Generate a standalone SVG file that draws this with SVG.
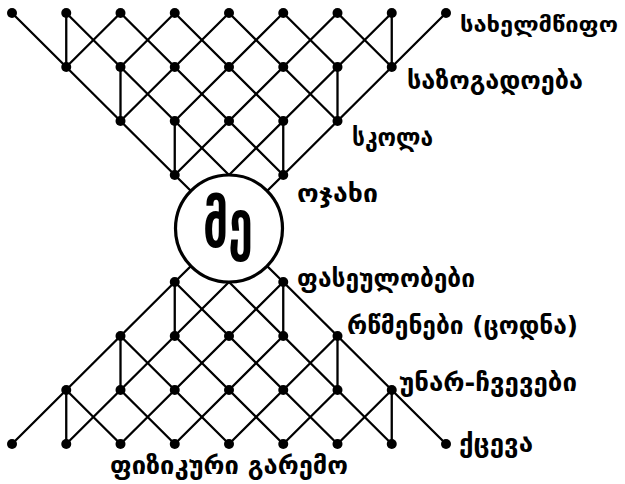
<svg xmlns="http://www.w3.org/2000/svg" width="625" height="484" viewBox="0 0 625 484">
<style>
.e{fill:none;stroke:#000;stroke-width:2.3;stroke-linecap:round;stroke-linejoin:round}
.d{fill:#000}
.t{font-family:"DejaVu Sans","Noto Sans",sans-serif;font-weight:bold;font-size:25px;fill:#000}
.s{font-size:22px}
.me{font-family:"DejaVu Sans","Noto Sans",sans-serif;font-weight:bold;font-size:66px;fill:#000}
</style>
<defs><circle id="dot" r="5" class="d"/></defs>
<rect width="625" height="484" fill="#fff"/>
<g id="connectors" class="e">
<path d="M12,13 L66.25,67 L120.5,121 L174.75,175 L229,228.5 M66.25,13 L229,175 M120.5,13 L283.25,175 M174.75,13 L283.25,121 M229,13 L337.5,121 M283.25,13 L337.5,67 M337.5,13 L391.75,67"/>
<path d="M446,13 L391.75,67 L337.5,121 L283.25,175 L229,228.5 M391.75,13 L229,175 M337.5,13 L174.75,175 M283.25,13 L174.75,121 M229,13 L120.5,121 M174.75,13 L120.5,67 M120.5,13 L66.25,67"/>
<path d="M66.25,13V67 M391.75,13V67 M120.5,67V121 M337.5,67V121 M174.75,121V175 M283.25,121V175"/>
<path d="M12,444 L66.25,390 L120.5,336 L174.75,282 L229,228.5 M66.25,444 L229,282 M120.5,444 L283.25,282 M174.75,444 L283.25,336 M229,444 L337.5,336 M283.25,444 L337.5,390 M337.5,444 L391.75,390"/>
<path d="M446,444 L391.75,390 L337.5,336 L283.25,282 L229,228.5 M391.75,444 L229,282 M337.5,444 L174.75,282 M283.25,444 L174.75,336 M229,444 L120.5,336 M174.75,444 L120.5,390 M120.5,444 L66.25,390"/>
<path d="M66.25,444V390 M391.75,444V390 M120.5,390V336 M337.5,390V336 M174.75,336V282 M283.25,336V282"/>
</g>
<g id="me">
<circle cx="229" cy="228.5" r="53.5" fill="#fff" stroke="#000" stroke-width="3.2"/>
<text class="me" x="228" y="247" text-anchor="middle" textLength="50" lengthAdjust="spacingAndGlyphs">მე</text>
</g>
<g id="top-r0">
<use id="t00" href="#dot" x="12" y="13"/>
<use id="t01" href="#dot" x="66.25" y="13"/>
<use id="t02" href="#dot" x="120.5" y="13"/>
<use id="t03" href="#dot" x="174.75" y="13"/>
<use id="t04" href="#dot" x="229" y="13"/>
<use id="t05" href="#dot" x="283.25" y="13"/>
<use id="t06" href="#dot" x="337.5" y="13"/>
<use id="t07" href="#dot" x="391.75" y="13"/>
</g>
<g id="sakhelmtsipo"><use href="#dot" x="446" y="13"/><text class="t s" x="460" y="32" textLength="158" lengthAdjust="spacingAndGlyphs">სახელმწიფო</text></g>
<g id="top-r1">
<use id="t11" href="#dot" x="66.25" y="67"/>
<use id="t12" href="#dot" x="120.5" y="67"/>
<use id="t13" href="#dot" x="174.75" y="67"/>
<use id="t14" href="#dot" x="229" y="67"/>
<use id="t15" href="#dot" x="283.25" y="67"/>
<use id="t16" href="#dot" x="337.5" y="67"/>
</g>
<g id="sazogadoeba"><use href="#dot" x="391.75" y="67"/><text class="t" x="407" y="89" textLength="176" lengthAdjust="spacingAndGlyphs">საზოგადოება</text></g>
<g id="top-r2">
<use id="t22" href="#dot" x="120.5" y="121"/>
<use id="t23" href="#dot" x="174.75" y="121"/>
<use id="t24" href="#dot" x="229" y="121"/>
<use id="t25" href="#dot" x="283.25" y="121"/>
</g>
<g id="skola"><use href="#dot" x="337.5" y="121"/><text class="t" x="352" y="146" textLength="81" lengthAdjust="spacingAndGlyphs">სკოლა</text></g>
<g id="top-r3"><use id="t33" href="#dot" x="174.75" y="175"/></g>
<g id="ojakhi"><use href="#dot" x="283.25" y="175"/><text class="t" x="297" y="202" textLength="81" lengthAdjust="spacingAndGlyphs">ოჯახი</text></g>
<g id="bot-r3"><use id="b33" href="#dot" x="174.75" y="282"/></g>
<g id="faseulobebi"><use href="#dot" x="283.25" y="282"/><text class="t" x="297" y="287" textLength="178" lengthAdjust="spacingAndGlyphs">ფასეულობები</text></g>
<g id="bot-r2">
<use id="b22" href="#dot" x="120.5" y="336"/>
<use id="b23" href="#dot" x="174.75" y="336"/>
<use id="b24" href="#dot" x="229" y="336"/>
<use id="b25" href="#dot" x="283.25" y="336"/>
</g>
<g id="rtsmenebi"><use href="#dot" x="337.5" y="336"/><text class="t" x="347" y="334" textLength="231" lengthAdjust="spacingAndGlyphs">რწმენები (ცოდნა)</text></g>
<g id="bot-r1">
<use id="b11" href="#dot" x="66.25" y="390"/>
<use id="b12" href="#dot" x="120.5" y="390"/>
<use id="b13" href="#dot" x="174.75" y="390"/>
<use id="b14" href="#dot" x="229" y="390"/>
<use id="b15" href="#dot" x="283.25" y="390"/>
<use id="b16" href="#dot" x="337.5" y="390"/>
</g>
<g id="unar-chvevebi"><use href="#dot" x="391.75" y="390"/><text class="t" x="399" y="391" textLength="178" lengthAdjust="spacingAndGlyphs">უნარ-ჩვევები</text></g>
<g id="bot-r0">
<use id="b00" href="#dot" x="12" y="444"/>
<use id="b01" href="#dot" x="66.25" y="444"/>
<use id="b02" href="#dot" x="120.5" y="444"/>
<use id="b03" href="#dot" x="174.75" y="444"/>
<use id="b04" href="#dot" x="229" y="444"/>
<use id="b05" href="#dot" x="283.25" y="444"/>
<use id="b06" href="#dot" x="337.5" y="444"/>
<use id="b07" href="#dot" x="391.75" y="444"/>
</g>
<g id="ktseva"><use href="#dot" x="446" y="444"/><text class="t" x="459" y="452" textLength="74" lengthAdjust="spacingAndGlyphs">ქცევა</text></g>
<g id="fizikuri-garemo"><text class="t" x="110" y="474" textLength="238" lengthAdjust="spacingAndGlyphs">ფიზიკური გარემო</text></g>
</svg>
